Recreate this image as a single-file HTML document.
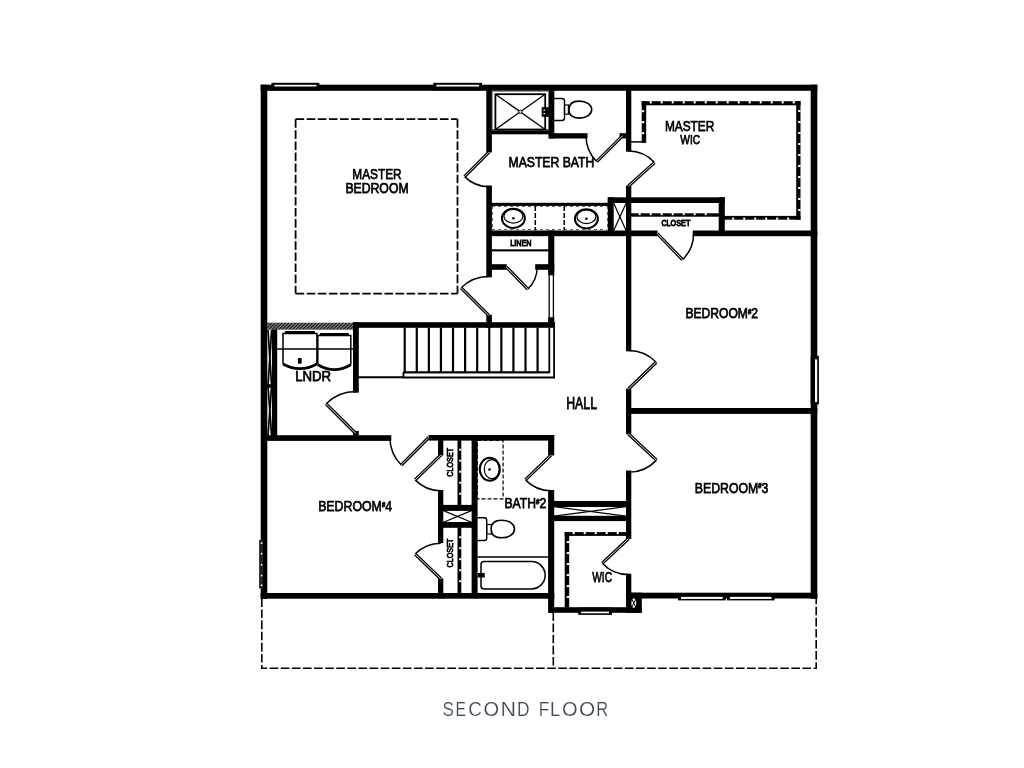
<!DOCTYPE html>
<html><head><meta charset="utf-8"><style>
html,body{margin:0;padding:0;background:#fff;width:1024px;height:768px;overflow:hidden}
svg{display:block;will-change:transform}
text{font-family:"Liberation Sans",sans-serif;fill:#000}
.title{font-family:"Liberation Sans",sans-serif;fill:#3e4756;stroke:#fff;stroke-width:0.2px}
.lbl{opacity:0.99}
</style></head><body>
<svg width="1024" height="768" viewBox="0 0 1024 768">
<defs><pattern id="hatch" width="2.4" height="2.4" patternUnits="userSpaceOnUse" patternTransform="rotate(45)"><rect width="2.4" height="2.4" fill="#8a8a8a"/><line x1="0" y1="0" x2="0" y2="2.4" stroke="#111" stroke-width="2.4"/></pattern></defs>
<rect width="1024" height="768" fill="#fff"/>
<rect x="260.70" y="84.70" width="556.60" height="6.10" fill="#000"/>
<rect x="260.70" y="84.70" width="6.60" height="514.10" fill="#000"/>
<rect x="810.70" y="84.70" width="6.60" height="514.10" fill="#000"/>
<rect x="260.70" y="593.00" width="293.60" height="5.70" fill="#000"/>
<rect x="630.70" y="592.70" width="186.60" height="5.80" fill="#000"/>
<rect x="548.70" y="607.20" width="93.10" height="5.60" fill="#000"/>
<rect x="630.70" y="592.70" width="11.10" height="20.10" fill="#000"/>
<rect x="271.40" y="82.80" width="48.00" height="7.70" fill="#010101"/>
<rect x="274.40" y="84.80" width="42.00" height="1.70" fill="#fff"/>
<rect x="433.30" y="82.80" width="48.70" height="7.70" fill="#010101"/>
<rect x="436.30" y="84.80" width="42.70" height="1.70" fill="#fff"/>
<rect x="678.00" y="593.00" width="47.70" height="7.40" fill="#010101"/>
<rect x="681.00" y="596.90" width="41.70" height="2.00" fill="#fff"/>
<rect x="727.00" y="593.00" width="47.50" height="7.40" fill="#010101"/>
<rect x="730.00" y="596.90" width="41.50" height="2.00" fill="#fff"/>
<rect x="578.20" y="607.50" width="33.80" height="7.40" fill="#010101"/>
<rect x="581.20" y="611.60" width="27.80" height="1.70" fill="#fff"/>
<rect x="486.30" y="89.70" width="5.60" height="62.80" fill="#000"/>
<rect x="486.30" y="185.50" width="5.60" height="91.80" fill="#000"/>
<rect x="486.30" y="314.70" width="5.60" height="13.10" fill="#000"/>
<rect x="491.30" y="129.30" width="58.00" height="5.00" fill="#000"/>
<rect x="548.70" y="89.70" width="5.60" height="48.80" fill="#000"/>
<rect x="548.70" y="133.20" width="38.80" height="5.30" fill="#000"/>
<rect x="619.50" y="133.20" width="7.30" height="5.20" fill="#000"/>
<rect x="626.00" y="89.70" width="5.30" height="62.00" fill="#000"/>
<rect x="626.00" y="185.50" width="5.30" height="165.80" fill="#000"/>
<rect x="626.00" y="388.70" width="5.30" height="45.60" fill="#000"/>
<rect x="626.00" y="470.50" width="5.30" height="68.55" fill="#000"/>
<rect x="626.00" y="573.70" width="5.30" height="39.10" fill="#000"/>
<rect x="607.80" y="197.30" width="117.00" height="5.70" fill="#000"/>
<rect x="607.80" y="197.30" width="5.90" height="34.00" fill="#000"/>
<rect x="718.70" y="197.30" width="6.10" height="34.60" fill="#000"/>
<rect x="491.30" y="230.50" width="166.20" height="5.70" fill="#000"/>
<rect x="692.70" y="230.50" width="124.60" height="5.70" fill="#000"/>
<rect x="548.20" y="230.50" width="6.10" height="41.40" fill="#000"/>
<rect x="491.30" y="264.20" width="15.40" height="5.60" fill="#000"/>
<rect x="535.20" y="264.20" width="19.10" height="5.60" fill="#000"/>
<rect x="491.30" y="249.30" width="57.50" height="2.10" fill="#000"/>
<rect x="549.20" y="271.60" width="4.20" height="49.20" fill="none" stroke="#000" stroke-width="1.3" />
<rect x="548.20" y="271.30" width="6.10" height="4.00" fill="#000"/>
<rect x="548.20" y="317.20" width="6.10" height="5.60" fill="#000"/>
<rect x="353.00" y="322.20" width="202.10" height="5.60" fill="#000"/>
<rect x="267" y="322.7" width="86.3" height="7" fill="url(#hatch)"/>
<rect x="353.00" y="322.20" width="5.80" height="70.50" fill="#000"/>
<rect x="266.70" y="435.20" width="124.60" height="5.70" fill="#000"/>
<rect x="353.10" y="430.90" width="5.60" height="5.40" fill="#000"/>
<rect x="271.90" y="329.40" width="5.30" height="106.90" fill="#000"/>
<line x1="268.00" y1="330.00" x2="271.60" y2="386.00" stroke="#000" stroke-width="1.7" />
<line x1="271.60" y1="330.00" x2="268.00" y2="386.00" stroke="#000" stroke-width="1.7" />
<line x1="268.00" y1="386.00" x2="271.60" y2="435.50" stroke="#000" stroke-width="1.7" />
<line x1="271.60" y1="386.00" x2="268.00" y2="435.50" stroke="#000" stroke-width="1.7" />
<rect x="266.50" y="384.20" width="6.20" height="3.60" fill="#000"/>
<rect x="428.50" y="435.00" width="125.70" height="5.60" fill="#000"/>
<rect x="438.00" y="439.70" width="5.30" height="15.80" fill="#000"/>
<rect x="438.00" y="490.00" width="5.30" height="53.10" fill="#000"/>
<rect x="438.00" y="578.45" width="5.30" height="19.85" fill="#000"/>
<rect x="471.60" y="439.70" width="6.00" height="158.60" fill="#000"/>
<rect x="442.70" y="504.90" width="29.60" height="6.00" fill="#000"/>
<rect x="442.70" y="522.00" width="29.60" height="5.80" fill="#000"/>
<line x1="443.50" y1="510.60" x2="471.50" y2="522.30" stroke="#000" stroke-width="1.2" />
<line x1="443.50" y1="522.30" x2="471.50" y2="510.60" stroke="#000" stroke-width="1.2" />
<rect x="548.10" y="435.00" width="6.10" height="20.50" fill="#000"/>
<rect x="548.10" y="490.00" width="6.10" height="122.80" fill="#000"/>
<rect x="553.60" y="500.95" width="73.00" height="6.05" fill="#000"/>
<rect x="553.60" y="515.80" width="73.00" height="5.30" fill="#000"/>
<line x1="554.00" y1="506.70" x2="626.00" y2="516.10" stroke="#000" stroke-width="1.2" />
<line x1="554.00" y1="516.10" x2="626.00" y2="506.70" stroke="#000" stroke-width="1.2" />
<rect x="630.70" y="408.00" width="186.60" height="5.90" fill="#000"/>
<line x1="613.60" y1="203.00" x2="626.20" y2="230.80" stroke="#000" stroke-width="1.2" />
<line x1="613.60" y1="230.80" x2="626.20" y2="203.00" stroke="#000" stroke-width="1.2" />
<path d="M464.60,176.60 A34.50,34.50 0 0 0 489.00,186.70" fill="none" stroke="#000" stroke-width="1.5" />
<line x1="489.00" y1="152.20" x2="464.60" y2="176.60" stroke="#000" stroke-width="3.2"/>
<line x1="489.00" y1="152.20" x2="464.60" y2="176.60" stroke="#fff" stroke-width="0.9"/>
<path d="M596.69,161.61 A36.50,36.50 0 0 1 586.00,135.80" fill="none" stroke="#000" stroke-width="1.5" />
<line x1="622.50" y1="135.80" x2="596.69" y2="161.61" stroke="#000" stroke-width="3.2"/>
<line x1="622.50" y1="135.80" x2="596.69" y2="161.61" stroke="#fff" stroke-width="0.9"/>
<path d="M654.51,162.58 A35.00,35.00 0 0 0 628.50,151.00" fill="none" stroke="#000" stroke-width="1.5" />
<line x1="628.50" y1="186.00" x2="654.51" y2="162.58" stroke="#000" stroke-width="3.2"/>
<line x1="628.50" y1="186.00" x2="654.51" y2="162.58" stroke="#fff" stroke-width="0.9"/>
<path d="M461.13,287.83 A38.70,38.70 0 0 1 488.50,276.50" fill="none" stroke="#000" stroke-width="1.5" />
<line x1="488.50" y1="315.20" x2="461.13" y2="287.83" stroke="#000" stroke-width="3.2"/>
<line x1="488.50" y1="315.20" x2="461.13" y2="287.83" stroke="#fff" stroke-width="0.9"/>
<path d="M527.80,289.16 A30.80,30.80 0 0 0 537.20,267.00" fill="none" stroke="#000" stroke-width="1.5" />
<line x1="506.40" y1="267.00" x2="527.80" y2="289.16" stroke="#000" stroke-width="3.2"/>
<line x1="506.40" y1="267.00" x2="527.80" y2="289.16" stroke="#fff" stroke-width="0.9"/>
<path d="M682.49,259.68 A36.40,36.40 0 0 0 693.60,233.50" fill="none" stroke="#000" stroke-width="1.5" />
<line x1="657.20" y1="233.50" x2="682.49" y2="259.68" stroke="#000" stroke-width="3.2"/>
<line x1="657.20" y1="233.50" x2="682.49" y2="259.68" stroke="#fff" stroke-width="0.9"/>
<path d="M656.19,362.26 A38.50,38.50 0 0 0 628.50,350.50" fill="none" stroke="#000" stroke-width="1.5" />
<line x1="628.50" y1="389.00" x2="656.19" y2="362.26" stroke="#000" stroke-width="3.2"/>
<line x1="628.50" y1="389.00" x2="656.19" y2="362.26" stroke="#fff" stroke-width="0.9"/>
<path d="M326.10,403.80 A42.00,42.00 0 0 1 355.80,391.50" fill="none" stroke="#000" stroke-width="1.5" />
<line x1="355.80" y1="433.50" x2="326.10" y2="403.80" stroke="#000" stroke-width="3.2"/>
<line x1="355.80" y1="433.50" x2="326.10" y2="403.80" stroke="#fff" stroke-width="0.9"/>
<path d="M401.29,465.01 A38.90,38.90 0 0 1 389.90,437.50" fill="none" stroke="#000" stroke-width="1.5" />
<line x1="428.80" y1="437.50" x2="401.29" y2="465.01" stroke="#000" stroke-width="3.2"/>
<line x1="428.80" y1="437.50" x2="401.29" y2="465.01" stroke="#fff" stroke-width="0.9"/>
<path d="M415.16,479.86 A35.50,35.50 0 0 0 440.70,490.70" fill="none" stroke="#000" stroke-width="1.5" />
<line x1="440.70" y1="455.20" x2="415.16" y2="479.86" stroke="#000" stroke-width="3.2"/>
<line x1="440.70" y1="455.20" x2="415.16" y2="479.86" stroke="#fff" stroke-width="0.9"/>
<path d="M415.16,554.09 A35.50,35.50 0 0 1 440.70,543.25" fill="none" stroke="#000" stroke-width="1.5" />
<line x1="440.70" y1="578.75" x2="415.16" y2="554.09" stroke="#000" stroke-width="3.2"/>
<line x1="440.70" y1="578.75" x2="415.16" y2="554.09" stroke="#fff" stroke-width="0.9"/>
<path d="M525.46,479.86 A35.50,35.50 0 0 0 551.00,490.70" fill="none" stroke="#000" stroke-width="1.5" />
<line x1="551.00" y1="455.20" x2="525.46" y2="479.86" stroke="#000" stroke-width="3.2"/>
<line x1="551.00" y1="455.20" x2="525.46" y2="479.86" stroke="#fff" stroke-width="0.9"/>
<path d="M656.51,460.12 A38.30,38.30 0 0 1 628.50,472.30" fill="none" stroke="#000" stroke-width="1.5" />
<line x1="628.50" y1="434.00" x2="656.51" y2="460.12" stroke="#000" stroke-width="3.2"/>
<line x1="628.50" y1="434.00" x2="656.51" y2="460.12" stroke="#fff" stroke-width="0.9"/>
<path d="M602.32,563.17 A35.80,35.80 0 0 0 628.50,574.55" fill="none" stroke="#000" stroke-width="1.5" />
<line x1="628.50" y1="538.75" x2="602.32" y2="563.17" stroke="#000" stroke-width="3.2"/>
<line x1="628.50" y1="538.75" x2="602.32" y2="563.17" stroke="#fff" stroke-width="0.9"/>
<line x1="295.60" y1="119.20" x2="457.50" y2="119.20" stroke="#000" stroke-width="1.8" stroke-dasharray="8.6 2.5"/>
<line x1="295.60" y1="119.20" x2="295.60" y2="293.60" stroke="#000" stroke-width="1.8" stroke-dasharray="8.6 2.5"/>
<line x1="457.50" y1="119.20" x2="457.50" y2="293.60" stroke="#000" stroke-width="1.8" stroke-dasharray="8.6 2.5"/>
<line x1="295.60" y1="293.60" x2="457.50" y2="293.60" stroke="#000" stroke-width="1.8" stroke-dasharray="8.6 2.5"/>
<path d="M261.8,598.4 L261.8,668.2 L816.2,668.2 L816.2,598.2" fill="none" stroke="#000" stroke-width="1.6" stroke-dasharray="8.6 2.5"/>
<line x1="553.30" y1="612.50" x2="553.30" y2="668.20" stroke="#000" stroke-width="1.6" stroke-dasharray="8.6 2.5"/>
<rect x="641.70" y="101.20" width="158.80" height="4.10" fill="#000"/>
<rect x="649.70" y="101.10" width="2.00" height="2.35" fill="#fff"/>
<rect x="660.70" y="101.10" width="2.00" height="2.35" fill="#fff"/>
<rect x="671.70" y="101.10" width="2.00" height="2.35" fill="#fff"/>
<rect x="682.70" y="101.10" width="2.00" height="2.35" fill="#fff"/>
<rect x="693.70" y="101.10" width="2.00" height="2.35" fill="#fff"/>
<rect x="704.70" y="101.10" width="2.00" height="2.35" fill="#fff"/>
<rect x="715.70" y="101.10" width="2.00" height="2.35" fill="#fff"/>
<rect x="726.70" y="101.10" width="2.00" height="2.35" fill="#fff"/>
<rect x="737.70" y="101.10" width="2.00" height="2.35" fill="#fff"/>
<rect x="748.70" y="101.10" width="2.00" height="2.35" fill="#fff"/>
<rect x="759.70" y="101.10" width="2.00" height="2.35" fill="#fff"/>
<rect x="770.70" y="101.10" width="2.00" height="2.35" fill="#fff"/>
<rect x="781.70" y="101.10" width="2.00" height="2.35" fill="#fff"/>
<rect x="792.70" y="101.10" width="2.00" height="2.35" fill="#fff"/>
<rect x="796.20" y="101.00" width="4.30" height="118.70" fill="#000"/>
<rect x="798.13" y="110.00" width="2.47" height="2.00" fill="#fff"/>
<rect x="798.13" y="121.00" width="2.47" height="2.00" fill="#fff"/>
<rect x="798.13" y="132.00" width="2.47" height="2.00" fill="#fff"/>
<rect x="798.13" y="143.00" width="2.47" height="2.00" fill="#fff"/>
<rect x="798.13" y="154.00" width="2.47" height="2.00" fill="#fff"/>
<rect x="798.13" y="165.00" width="2.47" height="2.00" fill="#fff"/>
<rect x="798.13" y="176.00" width="2.47" height="2.00" fill="#fff"/>
<rect x="798.13" y="187.00" width="2.47" height="2.00" fill="#fff"/>
<rect x="798.13" y="198.00" width="2.47" height="2.00" fill="#fff"/>
<rect x="798.13" y="209.00" width="2.47" height="2.00" fill="#fff"/>
<rect x="724.20" y="215.90" width="76.30" height="3.80" fill="#000"/>
<rect x="732.20" y="217.61" width="2.00" height="2.19" fill="#fff"/>
<rect x="743.20" y="217.61" width="2.00" height="2.19" fill="#fff"/>
<rect x="754.20" y="217.61" width="2.00" height="2.19" fill="#fff"/>
<rect x="765.20" y="217.61" width="2.00" height="2.19" fill="#fff"/>
<rect x="776.20" y="217.61" width="2.00" height="2.19" fill="#fff"/>
<rect x="787.20" y="217.61" width="2.00" height="2.19" fill="#fff"/>
<rect x="641.70" y="101.20" width="4.50" height="41.70" fill="#000"/>
<rect x="641.60" y="110.20" width="2.57" height="2.00" fill="#fff"/>
<rect x="641.60" y="121.20" width="2.57" height="2.00" fill="#fff"/>
<rect x="641.60" y="132.20" width="2.57" height="2.00" fill="#fff"/>
<line x1="631.00" y1="141.90" x2="643.00" y2="141.90" stroke="#000" stroke-width="1.5" />
<rect x="630.70" y="213.30" width="88.60" height="3.40" fill="#000"/>
<rect x="638.70" y="213.20" width="2.00" height="1.97" fill="#fff"/>
<rect x="649.70" y="213.20" width="2.00" height="1.97" fill="#fff"/>
<rect x="660.70" y="213.20" width="2.00" height="1.97" fill="#fff"/>
<rect x="671.70" y="213.20" width="2.00" height="1.97" fill="#fff"/>
<rect x="682.70" y="213.20" width="2.00" height="1.97" fill="#fff"/>
<rect x="693.70" y="213.20" width="2.00" height="1.97" fill="#fff"/>
<rect x="704.70" y="213.20" width="2.00" height="1.97" fill="#fff"/>
<rect x="457.50" y="439.70" width="3.80" height="65.80" fill="#000"/>
<rect x="459.21" y="448.70" width="2.19" height="2.00" fill="#fff"/>
<rect x="459.21" y="459.70" width="2.19" height="2.00" fill="#fff"/>
<rect x="459.21" y="470.70" width="2.19" height="2.00" fill="#fff"/>
<rect x="459.21" y="481.70" width="2.19" height="2.00" fill="#fff"/>
<rect x="459.21" y="492.70" width="2.19" height="2.00" fill="#fff"/>
<rect x="457.50" y="527.20" width="3.80" height="66.60" fill="#000"/>
<rect x="459.21" y="536.20" width="2.19" height="2.00" fill="#fff"/>
<rect x="459.21" y="547.20" width="2.19" height="2.00" fill="#fff"/>
<rect x="459.21" y="558.20" width="2.19" height="2.00" fill="#fff"/>
<rect x="459.21" y="569.20" width="2.19" height="2.00" fill="#fff"/>
<rect x="459.21" y="580.20" width="2.19" height="2.00" fill="#fff"/>
<rect x="564.70" y="532.10" width="61.90" height="3.80" fill="#000"/>
<rect x="572.70" y="532.00" width="2.00" height="2.19" fill="#fff"/>
<rect x="583.70" y="532.00" width="2.00" height="2.19" fill="#fff"/>
<rect x="594.70" y="532.00" width="2.00" height="2.19" fill="#fff"/>
<rect x="605.70" y="532.00" width="2.00" height="2.19" fill="#fff"/>
<rect x="616.70" y="532.00" width="2.00" height="2.19" fill="#fff"/>
<rect x="564.70" y="532.10" width="4.50" height="75.70" fill="#000"/>
<rect x="566.73" y="541.10" width="2.57" height="2.00" fill="#fff"/>
<rect x="566.73" y="552.10" width="2.57" height="2.00" fill="#fff"/>
<rect x="566.73" y="563.10" width="2.57" height="2.00" fill="#fff"/>
<rect x="566.73" y="574.10" width="2.57" height="2.00" fill="#fff"/>
<rect x="566.73" y="585.10" width="2.57" height="2.00" fill="#fff"/>
<rect x="566.73" y="596.10" width="2.57" height="2.00" fill="#fff"/>
<rect x="492.3" y="91.3" width="56.2" height="39" fill="none" stroke="#666" stroke-width="0.8"/>
<rect x="495.40" y="94.20" width="49.80" height="35.30" fill="none" stroke="#000" stroke-width="1.8" />
<line x1="495.40" y1="94.20" x2="545.20" y2="129.50" stroke="#000" stroke-width="1.3" />
<line x1="495.40" y1="129.50" x2="545.20" y2="94.20" stroke="#000" stroke-width="1.3" />
<circle cx="520.3" cy="111.8" r="1.6" fill="#fff" stroke="#000" stroke-width="1"/>
<rect x="541.70" y="107.20" width="7.60" height="9.60" fill="#000"/>
<rect x="543.5" y="109.5" width="1.4" height="1.4" fill="#fff"/><rect x="543.5" y="113" width="1.4" height="1.4" fill="#fff"/>
<path d="M553.8,98.5 L562,98.5 Q564.5,98.5 564.5,101 L564.5,118 Q564.5,120.5 562,120.5 L553.8,120.5" fill="none" stroke="#000" stroke-width="1.4" />
<rect x="564.50" y="105.00" width="3.90" height="9.20" fill="none" stroke="#000" stroke-width="1.2" />
<path d="M591.70,109.60 C591.70,104.92 586.68,101.10 579.16,101.10 C572.32,101.10 568.90,104.50 568.90,109.60 C568.90,114.70 572.32,118.10 579.16,118.10 C586.68,118.10 591.70,114.27 591.70,109.60 Z" fill="none" stroke="#000" stroke-width="1.6" />
<rect x="491.30" y="202.80" width="117.10" height="3.10" fill="#000"/>
<line x1="535.30" y1="206.00" x2="535.30" y2="230.50" stroke="#000" stroke-width="1.5" stroke-dasharray="5 2"/>
<line x1="564.20" y1="206.00" x2="564.20" y2="230.50" stroke="#000" stroke-width="1.5" stroke-dasharray="5 2"/>
<line x1="492.00" y1="206.50" x2="607.00" y2="206.50" stroke="#000" stroke-width="1" stroke-dasharray="3 3" stroke-opacity="0.6"/>
<line x1="492.00" y1="229.50" x2="607.00" y2="229.50" stroke="#000" stroke-width="1" stroke-dasharray="3 3" stroke-opacity="0.6"/>
<line x1="492.50" y1="206.00" x2="492.50" y2="230.00" stroke="#000" stroke-width="1" stroke-dasharray="3 3" stroke-opacity="0.6"/>
<line x1="607.50" y1="206.00" x2="607.50" y2="230.00" stroke="#000" stroke-width="1" stroke-dasharray="3 3" stroke-opacity="0.6"/>
<ellipse cx="513.4" cy="218.3" rx="11.5" ry="9.6" fill="none" stroke="#000" stroke-width="2"/>
<ellipse cx="513.4" cy="216.3" rx="9.5" ry="6.8" fill="none" stroke="#000" stroke-width="1.2"/>
<circle cx="513.4" cy="218.3" r="1.3" fill="#000"/>
<ellipse cx="586.4" cy="218.8" rx="11.5" ry="9.6" fill="none" stroke="#000" stroke-width="2"/>
<ellipse cx="586.4" cy="216.8" rx="9.5" ry="6.8" fill="none" stroke="#000" stroke-width="1.2"/>
<circle cx="586.4" cy="218.8" r="1.3" fill="#000"/>
<rect x="477.30" y="440.30" width="25.80" height="58.60" fill="none" stroke="#000" stroke-width="1.2" stroke-dasharray="4 2"/>
<ellipse cx="489.8" cy="469.2" rx="10" ry="11.5" fill="none" stroke="#000" stroke-width="2"/>
<ellipse cx="491.8" cy="469.2" rx="7.5" ry="9.5" fill="none" stroke="#000" stroke-width="1.2"/>
<circle cx="489.5" cy="469.5" r="1.3" fill="#000"/>
<path d="M477.3,517.8 L484.5,517.8 Q486.7,517.8 486.7,520 L486.7,538.3 Q486.7,540.5 484.5,540.5 L477.3,540.5" fill="none" stroke="#000" stroke-width="1.4" />
<rect x="486.70" y="524.50" width="4.70" height="9.50" fill="none" stroke="#000" stroke-width="1.2" />
<path d="M514.50,529.00 C514.50,524.16 509.37,520.20 501.69,520.20 C494.69,520.20 491.20,523.72 491.20,529.00 C491.20,534.28 494.69,537.80 501.69,537.80 C509.37,537.80 514.50,533.84 514.50,529.00 Z" fill="none" stroke="#000" stroke-width="1.6" />
<line x1="477.30" y1="556.90" x2="548.40" y2="556.90" stroke="#000" stroke-width="1.5" />
<path d="M484,561.6 L531.5,561.6 A13.6,13.6 0 0 1 531.5,588.9 L484,588.9 Q481,588.9 481,586 L481,564.6 Q481,561.6 484,561.6 Z" fill="none" stroke="#000" stroke-width="1.5" />
<rect x="477.70" y="573.00" width="7.00" height="4.50" fill="#000"/>
<rect x="284.8" y="330.9" width="30.299999999999976" height="2.6" rx="1" fill="#000"/>
<path d="M283,364 L283,333.5 L316.9,333.5 L316.9,364" fill="none" stroke="#000" stroke-width="1.5" />
<path d="M283,364 Q299.95,373.4 316.9,364" fill="none" stroke="#000" stroke-width="2.8" />
<rect x="319.6" y="333" width="29.4" height="2.6" rx="1" fill="#000"/>
<path d="M317.8,364.8 L317.8,335.6 L350.8,335.6 L350.8,364.8" fill="none" stroke="#000" stroke-width="1.5" />
<path d="M317.8,364.8 Q334.3,374.6 350.8,364.8" fill="none" stroke="#000" stroke-width="2.8" />
<line x1="276.90" y1="349.10" x2="353.30" y2="349.10" stroke="#000" stroke-width="1.5" />
<rect x="297.9" y="358" width="3.8" height="5.8" rx="1.2" fill="#000"/>
<line x1="404.70" y1="327.50" x2="404.70" y2="372.50" stroke="#000" stroke-width="2.2" />
<line x1="416.78" y1="327.50" x2="416.78" y2="372.50" stroke="#000" stroke-width="2.2" />
<line x1="428.86" y1="327.50" x2="428.86" y2="372.50" stroke="#000" stroke-width="2.2" />
<line x1="440.94" y1="327.50" x2="440.94" y2="372.50" stroke="#000" stroke-width="2.2" />
<line x1="453.02" y1="327.50" x2="453.02" y2="372.50" stroke="#000" stroke-width="2.2" />
<line x1="465.10" y1="327.50" x2="465.10" y2="372.50" stroke="#000" stroke-width="2.2" />
<line x1="477.18" y1="327.50" x2="477.18" y2="372.50" stroke="#000" stroke-width="2.2" />
<line x1="489.26" y1="327.50" x2="489.26" y2="372.50" stroke="#000" stroke-width="2.2" />
<line x1="501.34" y1="327.50" x2="501.34" y2="372.50" stroke="#000" stroke-width="2.2" />
<line x1="513.42" y1="327.50" x2="513.42" y2="372.50" stroke="#000" stroke-width="2.2" />
<line x1="525.50" y1="327.50" x2="525.50" y2="372.50" stroke="#000" stroke-width="2.2" />
<line x1="537.58" y1="327.50" x2="537.58" y2="372.50" stroke="#000" stroke-width="2.2" />
<line x1="404.00" y1="372.30" x2="549.00" y2="372.30" stroke="#000" stroke-width="1.8" />
<path d="M403.4,372.3 L403.4,377.5 L554.1,377.5 L554.1,327.5 M403.4,372.3 L549.3,372.3 L549.3,327.5" fill="none" stroke="#000" stroke-width="1.8" />
<line x1="358.50" y1="377.30" x2="403.40" y2="377.30" stroke="#000" stroke-width="2" />
<rect x="810.70" y="355.80" width="8.20" height="48.60" fill="#000"/>
<rect x="815.00" y="359.30" width="2.20" height="42.70" fill="#fff"/>
<rect x="259.10" y="540.00" width="3.90" height="48.40" fill="#222"/>
<circle cx="261.6" cy="543.2" r="0.9" fill="#fff"/>
<circle cx="261.6" cy="553.7" r="0.9" fill="#fff"/>
<circle cx="261.6" cy="564.7" r="0.9" fill="#fff"/>
<circle cx="261.6" cy="575.6" r="0.9" fill="#fff"/>
<circle cx="261.6" cy="585.2" r="0.9" fill="#fff"/>
<ellipse cx="633.8" cy="603.2" rx="2.4" ry="4.6" fill="#fff"/>
<line x1="631.60" y1="598.80" x2="636.00" y2="607.60" stroke="#000" stroke-width="1.0" />
<line x1="636.00" y1="598.80" x2="631.60" y2="607.60" stroke="#000" stroke-width="1.0" />
<g class="lbl">
<text x="352.30" y="178.68" font-size="15.1" textLength="49.33" lengthAdjust="spacingAndGlyphs" text-anchor="start" font-weight="normal" stroke="#000" stroke-width="0.75">MASTER</text>
<text x="345.38" y="192.68" font-size="14.05" textLength="63.24" lengthAdjust="spacingAndGlyphs" text-anchor="start" font-weight="normal" stroke="#000" stroke-width="0.75">BEDROOM</text>
<text x="508.56" y="166.63" font-size="14.37" textLength="85.70" lengthAdjust="spacingAndGlyphs" text-anchor="start" font-weight="normal" stroke="#000" stroke-width="0.75">MASTER BATH</text>
<text x="664.88" y="131.42" font-size="15.26" textLength="49.37" lengthAdjust="spacingAndGlyphs" text-anchor="start" font-weight="normal" stroke="#000" stroke-width="0.75">MASTER</text>
<text x="680.35" y="144.04" font-size="13.38" textLength="19.79" lengthAdjust="spacingAndGlyphs" text-anchor="start" font-weight="normal" stroke="#000" stroke-width="0.75">WIC</text>
<text x="510.30" y="246.30" font-size="9.2" textLength="21.10" lengthAdjust="spacingAndGlyphs" text-anchor="start" font-weight="normal" stroke="#000" stroke-width="0.95">LINEN</text>
<text x="661.40" y="226.10" font-size="9.4" textLength="28.90" lengthAdjust="spacingAndGlyphs" text-anchor="start" font-weight="normal" stroke="#000" stroke-width="0.95">CLOSET</text>
<text x="685.44" y="318.20" font-size="14.2" textLength="72.66" lengthAdjust="spacingAndGlyphs" text-anchor="start" font-weight="normal" stroke="#000" stroke-width="0.75">BEDROOM<tspan font-size="7.2" font-weight="bold" dy="-4.6">#</tspan><tspan dy="4.6">2</tspan></text>
<text x="566.18" y="408.70" font-size="15.57" textLength="30.85" lengthAdjust="spacingAndGlyphs" text-anchor="start" font-weight="normal" stroke="#000" stroke-width="0.75">HALL</text>
<text x="295.17" y="381.44" font-size="14.7" textLength="36.01" lengthAdjust="spacingAndGlyphs" text-anchor="start" font-weight="normal" stroke="#000" stroke-width="0.75">LNDR</text>
<text x="694.84" y="492.70" font-size="15.2" textLength="73.59" lengthAdjust="spacingAndGlyphs" text-anchor="start" font-weight="normal" stroke="#000" stroke-width="0.75">BEDROOM<tspan font-size="7.2" font-weight="bold" dy="-4.6">#</tspan><tspan dy="4.6">3</tspan></text>
<text x="318.15" y="511.44" font-size="15.2" textLength="73.86" lengthAdjust="spacingAndGlyphs" text-anchor="start" font-weight="normal" stroke="#000" stroke-width="0.75">BEDROOM<tspan font-size="7.2" font-weight="bold" dy="-4.6">#</tspan><tspan dy="4.6">4</tspan></text>
<text x="504.45" y="508.44" font-size="14.04" textLength="41.76" lengthAdjust="spacingAndGlyphs" text-anchor="start" font-weight="normal" stroke="#000" stroke-width="0.75">BATH<tspan font-size="7.2" font-weight="bold" dy="-4.6">#</tspan><tspan dy="4.6">2</tspan></text>
<text x="592.19" y="581.79" font-size="14.86" textLength="19.90" lengthAdjust="spacingAndGlyphs" text-anchor="start" font-weight="normal" stroke="#000" stroke-width="0.75">WIC</text>
<text transform="translate(453.3,476.8) rotate(-90)" font-size="9.8" stroke="#000" stroke-width="0.75" textLength="29" lengthAdjust="spacingAndGlyphs">CLOSET</text>
<text transform="translate(453.3,567.6) rotate(-90)" font-size="9.8" stroke="#000" stroke-width="0.75" textLength="29" lengthAdjust="spacingAndGlyphs">CLOSET</text>
</g>
<text class="title" transform="translate(442.48,715.7) scale(0.830,1)" font-size="20.5">S</text>
<text class="title" transform="translate(455.56,715.7) scale(0.765,1)" font-size="20.5">E</text>
<text class="title" transform="translate(468.19,715.7) scale(0.924,1)" font-size="20.5">C</text>
<text class="title" transform="translate(483.60,715.7) scale(0.979,1)" font-size="20.5">O</text>
<text class="title" transform="translate(500.39,715.7) scale(1.048,1)" font-size="20.5">N</text>
<text class="title" transform="translate(516.92,715.7) scale(0.848,1)" font-size="20.5">D</text>
<text class="title" transform="translate(538.74,715.7) scale(0.838,1)" font-size="20.5">F</text>
<text class="title" transform="translate(550.06,715.7) scale(0.885,1)" font-size="20.5">L</text>
<text class="title" transform="translate(562.00,715.7) scale(0.979,1)" font-size="20.5">O</text>
<text class="title" transform="translate(579.06,715.7) scale(1.015,1)" font-size="20.5">O</text>
<text class="title" transform="translate(596.30,715.7) scale(0.805,1)" font-size="20.5">R</text>
</svg>
</body></html>
